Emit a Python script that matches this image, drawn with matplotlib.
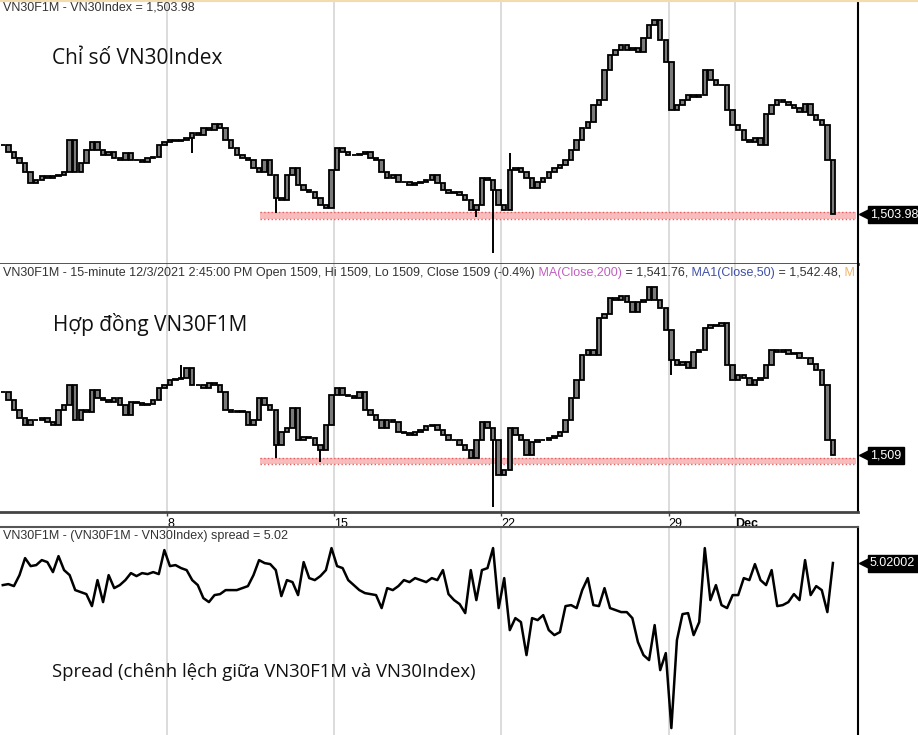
import numpy as np
import matplotlib.pyplot as plt
from matplotlib.lines import Line2D
from matplotlib.transforms import blended_transform_factory

plt.rcParams['font.family'] = ['Liberation Sans', 'DejaVu Sans']

# 15-minute data, resampled to 6 bars per trading day (Nov 1 -> Dec 3, 2021)
index_close = [
    1531.6, 1528.8, 1526.4, 1524.4, 1520.8, 1516.4,
    1517.6, 1519.2, 1518.4, 1519.2, 1519.6, 1520.8,
    1533.6, 1520.8, 1524.4, 1529.6, 1532.8, 1529.6,
    1527.6, 1528.8, 1526.4, 1525.6, 1528.4, 1525.6,
    1525.6, 1524.8, 1526.4, 1526.8, 1531.6, 1532.8,
    1533.6, 1533.2, 1533.6, 1534.4, 1536.4, 1535.6,
    1538.4, 1537.6, 1540.0, 1538.4, 1533.6, 1530.4,
    1527.6, 1526.4, 1525.6, 1522.4, 1520.8, 1525.6,
    1519.6, 1510.4, 1509.6, 1519.6, 1522.4, 1515.6,
    1513.6, 1512.8, 1510.4, 1507.6, 1506.4, 1521.6,
    1530.4, 1528.8, 1527.6, 1527.6, 1528.0, 1528.8,
    1526.4, 1525.6, 1520.8, 1518.4, 1519.6, 1516.8,
    1516.8, 1515.6, 1516.4, 1516.8, 1517.6, 1519.6,
    1516.4, 1513.6, 1512.4, 1512.8, 1511.6, 1509.6,
    1505.6, 1507.6, 1518.4, 1517.6, 1513.6, 1507.6,
    1505.6, 1521.6, 1522.4, 1520.8, 1518.4, 1514.4,
    1516.8, 1518.4, 1520.8, 1522.4, 1523.6, 1525.6,
    1529.6, 1533.6, 1538.4, 1540.8, 1547.6, 1549.6,
    1561.6, 1567.6, 1569.6, 1571.6, 1569.6, 1570.4,
    1568.8, 1574.4, 1579.6, 1581.6, 1573.6, 1564.8,
    1545.6, 1547.6, 1549.6, 1551.6, 1550.8, 1551.6,
    1561.6, 1557.6, 1555.6, 1555.6, 1545.6, 1539.6,
    1537.6, 1533.6, 1532.8, 1534.4, 1531.6, 1544.0,
    1547.6, 1549.6, 1548.8, 1547.6, 1546.4, 1544.8,
    1548.0, 1543.6, 1541.6, 1539.6, 1525.6, 1503.98,
]

futures_close = [
    1534.2, 1531.0, 1527.0, 1523.8, 1521.0, 1523.0,
    1523.0, 1523.8, 1522.2, 1521.0, 1527.0, 1529.0,
    1537.0, 1523.0, 1527.0, 1526.2, 1535.0, 1531.8,
    1531.0, 1530.2, 1531.8, 1529.0, 1525.0, 1530.2,
    1529.8, 1529.0, 1529.4, 1531.0, 1535.8, 1537.0,
    1539.0, 1539.4, 1539.8, 1543.8, 1537.0, 1537.0,
    1535.8, 1537.8, 1537.0, 1534.2, 1527.0, 1526.2,
    1526.6, 1526.2, 1521.0, 1523.0, 1531.8, 1529.0,
    1527.0, 1513.0, 1518.2, 1519.8, 1527.8, 1515.0,
    1516.2, 1515.8, 1513.0, 1511.0, 1521.0, 1533.0,
    1535.8, 1533.0, 1532.6, 1531.8, 1534.2, 1527.0,
    1525.0, 1523.0, 1519.8, 1523.0, 1522.2, 1518.2,
    1517.8, 1517.0, 1518.2, 1519.0, 1520.6, 1521.0,
    1519.0, 1517.0, 1515.0, 1515.0, 1513.0, 1511.0,
    1507.8, 1515.0, 1522.2, 1519.8, 1515.0, 1501.0,
    1503.0, 1519.8, 1517.0, 1515.0, 1509.0, 1514.2,
    1515.0, 1515.0, 1515.8, 1516.6, 1518.2, 1523.0,
    1531.8, 1539.0, 1549.0, 1551.0, 1549.0, 1563.8,
    1565.4, 1571.8, 1571.0, 1572.6, 1570.2, 1566.2,
    1570.2, 1571.0, 1576.2, 1571.0, 1567.8, 1559.0,
    1547.0, 1545.0, 1546.2, 1543.8, 1550.2, 1551.0,
    1559.8, 1561.0, 1560.6, 1561.8, 1545.0, 1539.0,
    1541.0, 1539.8, 1537.0, 1539.0, 1539.8, 1545.0,
    1551.0, 1550.2, 1551.0, 1549.4, 1549.8, 1547.8,
    1547.8, 1545.4, 1543.0, 1537.0, 1515.0, 1509.0,
]

spread = [
    0.6, 0.8, 0.4, 2.6, 6.0, 4.4,
    4.6, 5.6, 5.2, 3.2, 6.4, 3.6,
    2.6, -0.4, -0.8, -1.2, -3.6, 1.6,
    -2.8, 2.6, 0.0, 0.6, 1.6, 3.0,
    2.4, 3.0, 2.8, 3.2, 2.8, 7.6,
    4.4, 4.6, 4.0, 3.6, 1.6, 0.6,
    -2.0, -2.8, -1.4, -1.2, -0.4, -0.4,
    -0.4, 0.0, 0.4, 2.6, 5.6, 5.0,
    4.8, 3.6, -1.6, 1.6, 1.2, -1.4,
    5.2, 2.0, 1.6, 2.4, 3.6, 8.0,
    4.4, 4.0, 1.6, 0.6, -0.4, -1.0,
    -1.2, -1.4, -4.0, 0.0, -0.4, 0.4,
    1.6, 1.2, 2.0, 1.6, 1.2, 2.0,
    1.6, 3.6, -1.2, -2.4, -3.2, -5.0,
    3.6, -2.4, 3.6, 4.0, 8.0, -4.0,
    2.0, -8.4, -6.0, -6.8, -13.4, -6.0,
    -6.4, -5.4, -8.4, -9.4, -8.8, -3.6,
    -3.4, -4.0, -0.4, 2.0, -3.4, -3.6,
    0.0, -4.0, -4.4, -4.8, -4.8, -6.0,
    -10.8, -13.4, -14.4, -7.4, -16.4, -13.0,
    -28.0, -10.4, -5.2, -5.0, -9.4, -6.8,
    8.0, -2.4, 0.6, -3.4, -4.0, -1.4,
    -1.4, 2.0, 1.6, 4.8, 1.6, 0.6,
    3.6, -3.6, -3.4, -2.8, -1.2, -2.4,
    5.6, -1.4, 0.4, -0.4, -4.8, 5.02,
]

# long shadows (bar number, extreme price)
index_wick_bars = [34, 49, 85, 88, 91]
index_wick_vals = [1528.4, 1504.4, 1502.8, 1488.4, 1528.4]
futures_wick_bars = [32, 49, 57, 88, 120]
futures_wick_vals = [1545.0, 1507.8, 1506.2, 1488.2, 1541.0]

# support zones
index_band = (1502.2, 1504.8)
futures_band = (1505.4, 1507.8)
band_start = 46.2

day_ticks = [29.5, 59.5, 89.5, 119.5, 131.5]
day_labels = ['8', '15', '22', '29', 'Dec']

W, H = 918, 735
fig = plt.figure(figsize=(W / 100, H / 100), dpi=100)
right = 858 / W
ax1 = fig.add_axes([0, 1 - 264 / H, right, 264 / H])
ax2 = fig.add_axes([0, 1 - 512 / H, right, 248 / H])
ax3 = fig.add_axes([0, 0, right, 208 / H])

for ax in (ax1, ax2, ax3):
    ax.set_xlim(-0.5, 153.5)
    ax.set_yticks([])
    for x in day_ticks:
        ax.axvline(x, color='#d9d9d9', lw=1.3, zorder=0)
    ax.spines['left'].set_visible(False)
    ax.spines['top'].set_visible(False)
    ax.spines['right'].set_color('black')
    ax.spines['right'].set_linewidth(1.5)

ax1.set_ylim(1484.0, 1589.6)
ax2.set_ylim(1486.2, 1585.4)
ax3.set_ylim(-29.38, 12.22)

ax1.set_xticks([])
ax3.set_xticks([])
ax1.spines['bottom'].set_color('#444444')
ax1.spines['bottom'].set_linewidth(2)
ax2.spines['bottom'].set_color('#444444')
ax2.spines['bottom'].set_linewidth(2)
ax3.spines['bottom'].set_visible(False)
ax3.spines['top'].set_visible(True)
ax3.spines['top'].set_color('#555555')
ax3.spines['top'].set_linewidth(1.5)


def draw_candles(ax, closes, wick_bars, wick_vals):
    closes = np.asarray(closes)
    x = np.arange(len(closes))
    opens = np.concatenate([[closes[0]], closes[:-1]])
    lo = np.minimum(opens, closes)
    hi = np.maximum(opens, closes)
    for b, v in zip(wick_bars, wick_vals):
        ax.vlines(b, min(v, lo[b]), max(v, hi[b]), color='black', lw=1.4, zorder=3)
    ax.bar(x, hi - lo, bottom=lo, width=0.8, color='#7a7a7a',
           edgecolor='black', linewidth=1.3, zorder=4)


def draw_band(ax, band):
    ax.fill_between([band_start, 153.2], band[0], band[1], color='#f8bcbc', lw=0, zorder=1)
    ax.hlines(band, band_start, 153.2, colors='#e06060', linestyles=':', lw=1, zorder=2)


def price_tag(ax, value, label):
    tr = blended_transform_factory(ax.transAxes, ax.transData)
    ax.plot([1.0085], [value], marker='<', ms=9, color='black', transform=tr, clip_on=False)
    ax.text(1.014, value, label, transform=tr, ha='left', va='center', color='white',
            fontsize=9, clip_on=False,
            bbox=dict(boxstyle='square,pad=0.2', fc='black', ec='black'))


draw_band(ax1, index_band)
draw_candles(ax1, index_close, index_wick_bars, index_wick_vals)
draw_band(ax2, futures_band)
draw_candles(ax2, futures_close, futures_wick_bars, futures_wick_vals)
ax3.plot(np.arange(len(spread)), spread, color='black', lw=1.8, zorder=3)

price_tag(ax1, index_close[-1], '1,503.98')
price_tag(ax2, futures_close[-1], '1,509')
price_tag(ax3, spread[-1], '5.02002')

# date strip under the futures panel
ax2.set_xticks(day_ticks, day_labels)
ax2.tick_params(axis='x', direction='out', length=3, width=1, color='#444444',
                pad=1, labelsize=9)
for lbl in ax2.get_xticklabels():
    lbl.set_ha('left')
ax2.get_xticklabels()[-1].set_fontweight('bold')

# panel headers
hdr = dict(fontsize=9, va='center', color='#333333')
ax1.text(0.004, 0.970, 'VN30F1M - VN30Index = 1,503.98', transform=ax1.transAxes, **hdr)
ax3.text(0.004, 0.957, 'VN30F1M - (VN30F1M - VN30Index) spread = 5.02', transform=ax3.transAxes, **hdr)
t = ax2.text(0.004, 0.964, 'VN30F1M - 15-minute 12/3/2021 2:45:00 PM Open 1509, Hi 1509, '
             'Lo 1509, Close 1509 (-0.4%)', transform=ax2.transAxes, **hdr)
parts = [(' MA(Close,200)', '#c060c0'), (' = 1,541.76,', '#333333'),
         (' MA1(Close,50)', '#4050a8'), (' = 1,542.48,', '#333333'), (' M', '#f0b46a')]
for s, c in parts:
    t = ax2.annotate(s, xy=(1, 0), xycoords=t, ha='left', va='bottom',
                     fontsize=9, color=c, annotation_clip=False)

# big captions
cap = dict(family=['Open Sans', 'DejaVu Sans'], color='#111111', va='center')
ax1.text(52 / 858, 1 - 58 / 264, 'Chỉ số VN30Index', transform=ax1.transAxes,
         fontsize=15, **cap)
ax2.text(53 / 858, 1 - 61 / 248, 'Hợp đồng VN30F1M', transform=ax2.transAxes,
         fontsize=15, **cap)
ax3.text(52 / 858, 1 - 145 / 208, 'Spread (chênh lệch giữa VN30F1M và VN30Index)',
         transform=ax3.transAxes, fontsize=13.3, **cap)

fig.add_artist(Line2D([0, 1], [1, 1], transform=fig.transFigure, color='#f2dcae', lw=3))

fig.savefig('out.png', dpi=100)
